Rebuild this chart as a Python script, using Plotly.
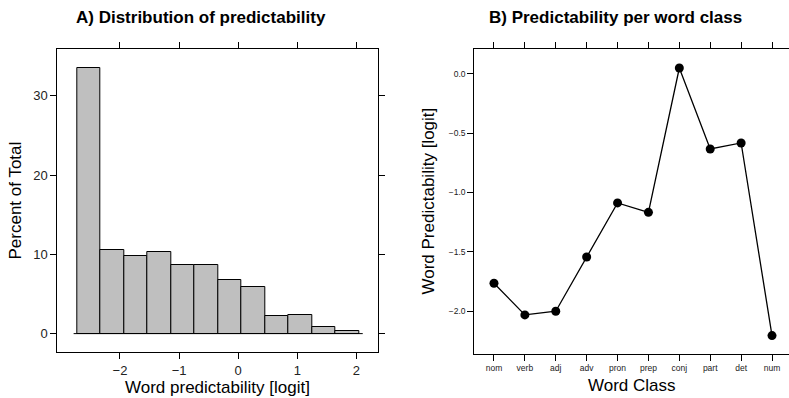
import plotly.graph_objects as go

# ---- data ----
bin_edges = [-2.719, -2.330, -1.934, -1.540, -1.139, -0.745, -0.343, 0.056, 0.452, 0.841, 1.247, 1.641, 2.042]
percent_of_total = [33.5, 10.5, 9.85, 10.35, 8.6, 8.7, 6.8, 5.9, 2.27, 2.4, 0.88, 0.33]

word_classes = ["nom", "verb", "adj", "adv", "pron", "prep", "conj", "part", "det", "num"]
predictability = [-1.764, -2.031, -2.0, -1.543, -1.088, -1.167, 0.048, -0.634, -0.583, -2.205]

hist_xticks = [-2, -1, 0, 1, 2]
hist_xticklabels = ["\u22122", "\u22121", "0", "1", "2"]
hist_yticks = [0, 10, 20, 30]
pred_yticks = [0.0, -0.5, -1.0, -1.5, -2.0]
pred_yticklabels = ["0.0", "\u22120.5", "\u22121.0", "\u22121.5", "\u22122.0"]

W, H = 789, 398
FONT = "Liberation Sans, Arial, Helvetica, sans-serif"

centers = [(bin_edges[i] + bin_edges[i + 1]) / 2 for i in range(len(percent_of_total))]
widths = [bin_edges[i + 1] - bin_edges[i] for i in range(len(percent_of_total))]

fig = go.Figure()

# zero reference line
fig.add_trace(go.Scatter(
    x=[bin_edges[0] - 0.065, bin_edges[-1] + 0.065], y=[0, 0],
    mode="lines", line=dict(color="black", width=1),
    xaxis="x", yaxis="y", showlegend=False, hoverinfo="skip"))

fig.add_trace(go.Bar(
    x=centers, y=percent_of_total, width=widths,
    marker=dict(color="#bfbfbf", line=dict(color="black", width=1)),
    xaxis="x", yaxis="y", showlegend=False))

fig.add_trace(go.Scatter(
    x=list(range(len(word_classes))), y=predictability,
    mode="lines+markers",
    line=dict(color="black", width=1.3),
    marker=dict(color="black", size=9),
    xaxis="x2", yaxis="y2", showlegend=False))

def px_x(a, b):
    return [a / W, b / W]

def px_y(top, bottom):
    return [(H - bottom) / H, (H - top) / H]

axis_common = dict(showgrid=False, zeroline=False, showline=True, linecolor="black",
                   linewidth=1, ticks="outside", ticklen=6, tickcolor="black", tickwidth=1)

fig.update_layout(
    width=W, height=H,
    margin=dict(l=0, r=0, t=0, b=0),
    paper_bgcolor="white", plot_bgcolor="white",
    font=dict(family=FONT, color="black"),
    bargap=0,
    xaxis=dict(domain=px_x(57.3, 377.7), range=[-3.06, 2.36], tickvals=hist_xticks,
               ticktext=hist_xticklabels, mirror="ticks",
               tickfont=dict(size=13, color="#222"), anchor="y", **axis_common),
    yaxis=dict(domain=px_y(49, 352), range=[-2.32, 35.9], tickvals=hist_yticks,
               mirror="ticks", tickfont=dict(size=13, color="#222"), anchor="x", **axis_common),
    xaxis2=dict(domain=px_x(474.3, 789), range=[-0.637, 9.55],
                tickvals=list(range(len(word_classes))), ticktext=word_classes,
                mirror="ticks", tickfont=dict(size=8.5, color="#222"), anchor="y2",
                **axis_common),
    yaxis2=dict(domain=px_y(49, 354), range=[-2.36, 0.208], tickvals=pred_yticks,
                ticktext=pred_yticklabels, mirror=False, tickfont=dict(size=8.5, color="#222"),
                anchor="x2", **axis_common),
)

annos = [
    dict(text="<b>A) Distribution of predictability</b>", x=200.5 / W, y=1 - 17 / H,
         font=dict(size=17)),
    dict(text="<b>B) Predictability per word class</b>", x=615 / W, y=1 - 17 / H,
         font=dict(size=17)),
    dict(text="Word predictability [logit]", x=217.5 / W, y=1 - 387 / H, font=dict(size=17)),
    dict(text="Word Class", x=632 / W, y=1 - 385 / H, font=dict(size=17)),
    dict(text="Percent of Total", x=15 / W, y=1 - 200.5 / H, font=dict(size=17), textangle=-90),
    dict(text="Word Predictability [logit]", x=428 / W, y=1 - 201.5 / H, font=dict(size=17),
         textangle=-90),
]
for a in annos:
    fig.add_annotation(xref="paper", yref="paper", showarrow=False,
                       xanchor="center", yanchor="middle", **a)

fig.write_html("out.html")
